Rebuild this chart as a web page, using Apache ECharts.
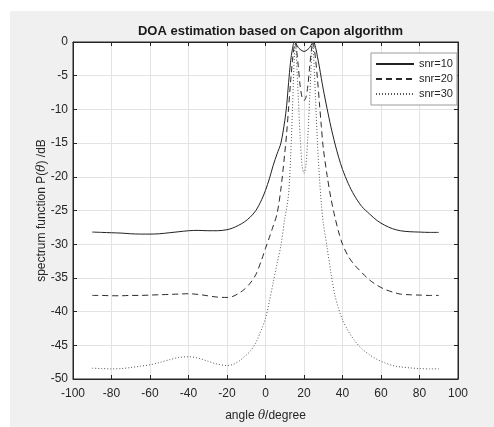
<!DOCTYPE html>
<html>
<head>
<meta charset="utf-8">
<script src="https://cdn.jsdelivr.net/npm/echarts@6/dist/echarts.min.js"></script>
<style>
html,body{margin:0;padding:0;background:#fff;}
#bg{position:absolute;left:10px;top:11px;width:484px;height:416px;background:#f0f0f0;}
#chart{position:absolute;left:0;top:0;width:494px;height:427px;}
</style>
</head>
<body>
<div id="bg"></div>
<div id="chart"></div>
<script>
var angles = [-90,-85,-80,-75,-70,-65,-60,-55,-50,-45,-40,-35,-30,-25,-20,-17,-14,-11,-8,-5,-2,0,2,4,6,8,10,11,12,13,14,15,15.5,16,17,18,19,20,21,22,23,24,24.5,25,26,27,28,29,30,32,34,36,38,40,43,46,50,54,58,62,66,70,75,80,85,90];
var snr10 = [-28.2,-28.25,-28.3,-28.35,-28.45,-28.5,-28.5,-28.45,-28.3,-28.15,-28.0,-27.95,-28.0,-28.0,-27.85,-27.6,-27.2,-26.7,-26.0,-25.0,-23.4,-22.0,-20.3,-18.3,-16.6,-15.0,-11.7,-9.4,-6.0,-3.0,-1.0,0,-0.1,-0.3,-0.8,-1.1,-1.3,-1.4,-1.3,-1.1,-0.8,-0.3,-0.1,0,-0.8,-2.2,-3.7,-5.4,-7.0,-9.9,-12.6,-15.0,-17.1,-18.9,-21.0,-22.7,-24.4,-25.5,-26.5,-27.2,-27.7,-28.0,-28.15,-28.2,-28.25,-28.25];
var snr20 = [-37.6,-37.6,-37.65,-37.65,-37.6,-37.6,-37.55,-37.5,-37.45,-37.4,-37.35,-37.45,-37.65,-37.85,-37.9,-37.75,-37.3,-36.7,-35.8,-34.5,-32.3,-30.6,-29.0,-27.3,-25.5,-21.8,-16.5,-13.5,-9.8,-6.0,-2.8,-0.4,0,-0.8,-3.5,-6.5,-8.2,-8.7,-8.2,-6.5,-3.5,-0.8,0,-0.4,-2.5,-5.5,-9.0,-12.5,-15.7,-19.8,-23.2,-25.9,-28.2,-30.0,-31.8,-33.0,-34.2,-35.3,-36.1,-36.7,-37.1,-37.4,-37.5,-37.55,-37.6,-37.6];
var snr30 = [-48.4,-48.45,-48.5,-48.45,-48.3,-48.1,-47.9,-47.55,-47.15,-46.8,-46.7,-46.9,-47.35,-47.8,-48.0,-47.85,-47.4,-46.7,-45.9,-44.6,-42.6,-41.0,-38.5,-35.7,-32.9,-30.2,-26.2,-24.6,-22.5,-17.5,-10.0,-2.0,0,-2.0,-8.0,-14.0,-18.3,-19.5,-18.3,-14.0,-8.0,-2.0,0,-2.0,-8.5,-15.0,-20.0,-24.0,-26.8,-30.5,-34.3,-37.5,-39.6,-41.2,-42.9,-44.2,-45.5,-46.4,-47.1,-47.6,-48.0,-48.2,-48.35,-48.45,-48.5,-48.5];
var seriesNames = ['snr=10','snr=20','snr=30'];
var xTicks = {min:-100, max:100, interval:20};
var yTicks = {min:-50, max:0, interval:5};

function pairs(vals){ return angles.map(function(a,i){ return [a, vals[i]]; }); }

var font = 'Liberation Sans, Arial, Helvetica, sans-serif';
var txt = '#262626';
var chart = echarts.init(document.getElementById('chart'), null, {renderer:'canvas'});
var tickStyle = {show:true, inside:true, length:4, lineStyle:{color:txt, width:1}};
var lineStyleAxis = {show:true, onZero:false, lineStyle:{color:txt, width:1}};
var option = {
  backgroundColor: 'transparent',
  animation: false,
  title: {
    text: 'DOA estimation based on Capon algorithm',
    left: 265.5, textAlign: 'center', top: 20,
    textStyle: {fontFamily: font, fontSize: 13, fontWeight: 'bold', color: '#1a1a1a'}
  },
  legend: {
    orient: 'vertical', left: 371, top: 53,
    data: seriesNames,
    itemWidth: 38, itemHeight: 10, itemGap: 3,
    padding: [5, 4, 5, 4],
    itemStyle: {opacity: 0},
    backgroundColor: '#fff', borderColor: '#9a9a9a', borderWidth: 1,
    textStyle: {fontFamily: font, fontSize: 11, color: txt, lineHeight: 12}
  },
  grid: {left: 73, right: 36, top: 42, bottom: 41, show: true, backgroundColor: '#fff', borderColor: txt, borderWidth: 1},
  xAxis: [{
    type: 'value', min: xTicks.min, max: xTicks.max, interval: xTicks.interval, position: 'bottom',
    axisLine: lineStyleAxis, axisTick: tickStyle,
    axisLabel: {fontFamily: font, fontSize: 12, color: txt, margin: 9},
    splitLine: {show: true, lineStyle: {color: '#e3e3e3', width: 1}},
    name: '{a|angle }{i|θ}{a|/degree}', nameLocation: 'middle', nameGap: 31, nameMoveOverlap: false,
    nameTextStyle: {rich: {a: {fontFamily: font, fontSize: 12, color: txt}, i: {fontFamily: 'DejaVu Serif, serif', fontStyle: 'italic', fontSize: 12, color: txt}}}
  },{
    type: 'value', min: xTicks.min, max: xTicks.max, interval: xTicks.interval, position: 'top',
    axisLine: lineStyleAxis, axisTick: tickStyle, axisLabel: {show: false}, splitLine: {show: false}
  }],
  yAxis: [{
    type: 'value', min: yTicks.min, max: yTicks.max, interval: yTicks.interval, position: 'left',
    axisLine: lineStyleAxis, axisTick: tickStyle,
    axisLabel: {fontFamily: font, fontSize: 12, color: txt, margin: 5},
    splitLine: {show: true, lineStyle: {color: '#e3e3e3', width: 1}},
    name: '{a|spectrum function P(}{i|θ}{a|) /dB}', nameLocation: 'middle', nameGap: 25, nameRotate: 90, nameMoveOverlap: false,
    nameTextStyle: {rich: {a: {fontFamily: font, fontSize: 12, color: txt}, i: {fontFamily: 'DejaVu Serif, serif', fontStyle: 'italic', fontSize: 12, color: txt}}}
  },{
    type: 'value', min: yTicks.min, max: yTicks.max, interval: yTicks.interval, position: 'right',
    axisLine: lineStyleAxis, axisTick: tickStyle, axisLabel: {show: false}, splitLine: {show: false}
  }],
  series: [
    {name: seriesNames[0], type: 'line', data: pairs(snr10), showSymbol: false, symbol: 'none', smooth: 0.3, clip: true,
     lineStyle: {color: '#222', width: 1, type: 'solid'}, itemStyle: {color: '#222'}},
    {name: seriesNames[1], type: 'line', data: pairs(snr20), showSymbol: false, symbol: 'none', smooth: 0.3, clip: true,
     lineStyle: {color: '#2a2a2a', width: 1, type: [6, 4]}, itemStyle: {color: '#2a2a2a'}},
    {name: seriesNames[2], type: 'line', data: pairs(snr30), showSymbol: false, symbol: 'none', smooth: 0.3, clip: true,
     lineStyle: {color: '#555', width: 1, type: [1, 2]}, itemStyle: {color: '#555'}}
  ]
};
chart.setOption(option);
</script>
</body>
</html>
